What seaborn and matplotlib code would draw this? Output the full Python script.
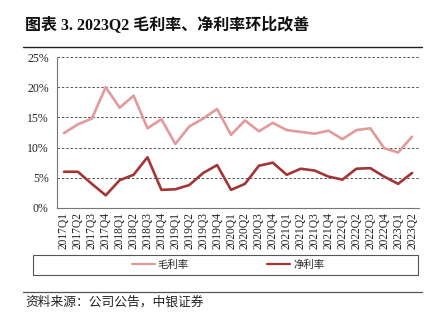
import matplotlib
matplotlib.use("Agg")
import matplotlib.pyplot as plt
import seaborn as sns
import pandas as pd
import numpy as np
from matplotlib.patches import Rectangle
from matplotlib.lines import Line2D
from matplotlib.ticker import FuncFormatter, FixedLocator

quarters = ["2017Q1", "2017Q2", "2017Q3", "2017Q4",
            "2018Q1", "2018Q2", "2018Q3", "2018Q4",
            "2019Q1", "2019Q2", "2019Q3", "2019Q4",
            "2020Q1", "2020Q2", "2020Q3", "2020Q4",
            "2021Q1", "2021Q2", "2021Q3", "2021Q4",
            "2022Q1", "2022Q2", "2022Q3", "2022Q4",
            "2023Q1", "2023Q2"]
gross_margin = [12.4, 13.85, 14.8, 20.0, 16.6, 18.6, 13.2, 14.7,
                10.6, 13.5, 14.8, 16.4, 12.1, 14.5, 12.7, 14.1,
                12.9, 12.6, 12.3, 12.8, 11.4, 12.9, 13.2, 9.9,
                9.2, 11.8]
net_margin = [6.0, 6.0, 4.0, 2.1, 4.6, 5.5, 8.4, 3.0,
              3.1, 3.8, 5.8, 7.1, 3.0, 4.0, 7.0, 7.5,
              5.5, 6.5, 6.2, 5.2, 4.7, 6.5, 6.6, 5.2,
              4.0, 5.8]
series_names = ["毛利率", "净利率"]
y_ticks = [0, 5, 10, 15, 20, 25]
title_text = "图表 3. 2023Q2 毛利率、净利率环比改善"
source_text = "资料来源：公司公告，中银证券"

sns.set_theme(style="white")
plt.rcParams['font.family'] = ['Liberation Serif', 'Noto Sans CJK SC', 'DejaVu Sans']

df = pd.DataFrame({
    "quarter": quarters * 2,
    "value": gross_margin + net_margin,
    "series": [series_names[0]] * len(quarters) + [series_names[1]] * len(quarters),
})
palette = {series_names[0]: "#E39A9A", series_names[1]: "#A23535"}

fig = plt.figure(figsize=(4.34, 3.25), dpi=100)
ax = fig.add_axes([57 / 434, 1 - 208 / 325, 362 / 434, 151 / 325])

sns.lineplot(data=df, x="quarter", y="value", hue="series", palette=palette,
             linewidth=1.9, ax=ax, legend=False, sort=False)

n = len(quarters)
ax.set_xlim(-0.5, n - 0.5)
ax.set_ylim(0, 25)
ax.set_yticks(y_ticks)
ax.yaxis.set_major_formatter(FuncFormatter(lambda v, p: f"{int(v)}%"))
ax.set_xticks(range(n))
ax.set_xticklabels(quarters, rotation=90, fontsize=8.3)
ax.xaxis.set_minor_locator(FixedLocator(np.arange(-0.5, n, 1.0)))
ax.tick_params(axis="x", which="major", length=0, pad=3, colors="#222222")
ax.tick_params(axis="x", which="minor", length=3, width=0.7, color="#777777", direction="out")
ax.tick_params(axis="y", which="major", length=3, width=0.7, color="#777777",
               direction="out", labelsize=8.5, labelcolor="#222222", pad=3)
ax.set_xlabel("")
ax.set_ylabel("")
for y in y_ticks[1:]:
    ax.axhline(y, color="#555555", linestyle=(0, (2.5, 2)), linewidth=0.7, zorder=0)
for s in ["top", "right"]:
    ax.spines[s].set_visible(False)
for s in ["left", "bottom"]:
    ax.spines[s].set_color("#777777")
    ax.spines[s].set_linewidth(0.8)

# Title and rules
fig.text(25 / 434, 1 - 25 / 325, title_text, fontsize=11.5, fontweight="bold",
         va="center", ha="left", color="#111111")
fig.add_artist(Line2D([23 / 434, 422 / 434], [1 - 47 / 325] * 2, color="#222222",
                      linewidth=1.0, transform=fig.transFigure))

# Legend box
fig.add_artist(Rectangle((33 / 434, 1 - 275 / 325), 385 / 434, 20 / 325,
                         transform=fig.transFigure, fill=False,
                         edgecolor="#555555", linewidth=0.8))
handles = [Line2D([], [], color=palette[s], linewidth=1.6) for s in series_names]
leg = fig.legend(handles, series_names, loc="center", ncol=2,
                 bbox_to_anchor=(228 / 434, 1 - 265 / 325), frameon=False,
                 handlelength=2.2, handletextpad=0.3, columnspacing=7.5,
                 prop={"family": ["Noto Sans CJK SC"], "size": 7.5})

fig.add_artist(Line2D([23 / 434, 422 / 434], [1 - 292 / 325] * 2, color="#555555",
                      linewidth=0.9, transform=fig.transFigure))
fig.text(25 / 434, 1 - 302 / 325, source_text, fontsize=9.2, style="italic",
         va="center", ha="left", color="#222222",
         family=["Noto Sans CJK SC", "DejaVu Sans"])

fig.savefig("out.png", dpi=100)
